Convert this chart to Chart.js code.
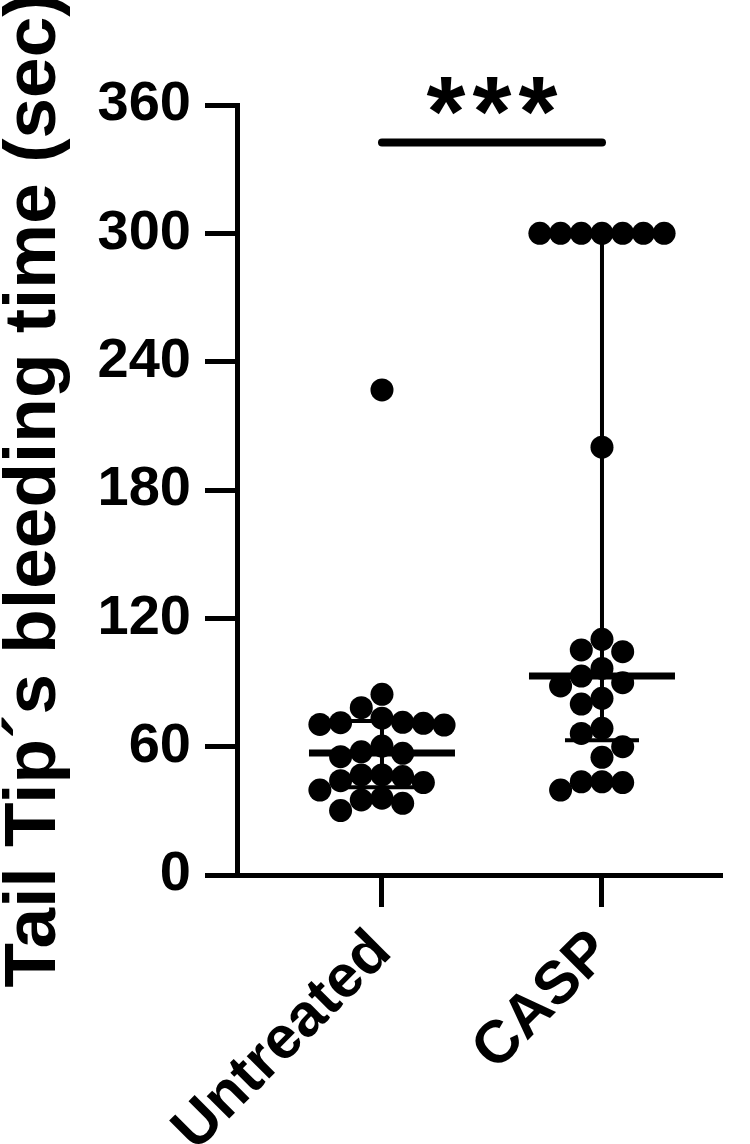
<!DOCTYPE html>
<html lang="en">
<head>
  <meta charset="UTF-8">
  <title>Tail tip bleeding time</title>
  <script src="https://cdn.jsdelivr.net/npm/chart.js"></script>
  <style>
    body { margin: 0; background: #fff; }
  </style>
</head>
<body>
  <canvas id="myChart" width="750" height="1144"></canvas>

  <script>
    // data
    const groups = ['Untreated', 'CASP'];
    const untreated = [226.8, 84.5, 78.2, 73.3, 71.4, 71.2, 70.9, 70.4, 70.1, 60.3, 57.6, 56.9, 55.3,
      46.8, 46.8, 46.0, 44.1, 43.2, 39.7, 35.9, 35.1, 33.5, 30.1];
    const casp = [300, 300, 300, 300, 300, 300, 300, 200, 110.2, 105.2, 104.4, 96.6, 93.0, 89.9, 88.4,
      82.6, 79.9, 68.6, 66.2, 60.0, 55.0, 43.6, 43.6, 43.2, 39.7];
    const medians = [57, 93];
    const lowerQ = [41, 63];
    const upperQ = [72, 300];
    const yTicks = [0, 60, 120, 180, 240, 300, 360];
    const significance = '***';

    const FONT = '"Liberation Sans", Arial, sans-serif';

    // simple column beeswarm so the dots sit side by side like the prism plot
    const pxPerX = 220, pxPerY = 770 / 360, gap = 20.7, minDy = 21;
    function swarm(values, center) {
      const placed = [];
      const sorted = [...values].sort((a, b) => b - a);
      sorted.forEach(v => {
        for (let k = 0; k < 20; k++) {
          const col = k === 0 ? 0 : (k % 2 ? -Math.ceil(k / 2) : Math.ceil(k / 2));
          const hit = placed.some(p => p.col === col && Math.abs(p.y - v) * pxPerY < minDy);
          if (!hit) { placed.push({ col, y: v }); break; }
        }
      });
      return placed.map(p => ({ x: center + p.col * gap / pxPerX, y: p.y }));
    }

    const extras = {
      id: 'extras',
      afterDatasetsDraw(chart) {
        const { ctx, chartArea, scales: { x, y } } = chart;
        ctx.save();
        ctx.strokeStyle = '#000';
        ctx.fillStyle = '#000';
        groups.forEach((g, i) => {
          const cx = x.getPixelForValue(i + 1);
          // median
          ctx.lineWidth = 7;
          ctx.beginPath();
          ctx.moveTo(cx - 73, y.getPixelForValue(medians[i]));
          ctx.lineTo(cx + 73, y.getPixelForValue(medians[i]));
          ctx.stroke();
          // interquartile range
          ctx.lineWidth = 4;
          ctx.beginPath();
          ctx.moveTo(cx, y.getPixelForValue(lowerQ[i]));
          ctx.lineTo(cx, y.getPixelForValue(upperQ[i]));
          [lowerQ[i], upperQ[i]].forEach(v => {
            ctx.moveTo(cx - 37, y.getPixelForValue(v));
            ctx.lineTo(cx + 37, y.getPixelForValue(v));
          });
          ctx.stroke();
        });
        // significance bar + stars
        const sy = y.getPixelForValue(342.5);
        const x1 = x.getPixelForValue(1), x2 = x.getPixelForValue(2);
        ctx.lineWidth = 8;
        ctx.lineCap = 'round';
        ctx.beginPath();
        ctx.moveTo(x1, sy);
        ctx.lineTo(x2, sy);
        ctx.stroke();
        ctx.font = 'bold 100px ' + FONT;
        ctx.textAlign = 'center';
        ctx.textBaseline = 'alphabetic';
        const mid = (x1 + x2) / 2;
        [...significance].forEach((s, k) => ctx.fillText(s, mid + (k - 1) * 46, sy + 4));
        // axis title
        ctx.translate(55, (chartArea.top + chartArea.bottom) / 2);
        ctx.rotate(-Math.PI / 2);
        ctx.font = 'bold 73px ' + FONT;
        ctx.fillText('Tail Tip\u00B4s bleeding time (sec)', 0, 0);
        ctx.restore();
      }
    };

    const ctx = document.getElementById('myChart').getContext('2d');
    const myChart = new Chart(ctx, {
      type: 'scatter',
      data: {
        datasets: [
          { label: groups[0], data: swarm(untreated, 1) },
          { label: groups[1], data: swarm(casp, 2) },
        ].map(d => ({
          ...d,
          backgroundColor: '#000',
          borderWidth: 0,
          pointRadius: 11.5,
          pointHoverRadius: 11.5,
          clip: false,
        })),
      },
      options: {
        responsive: false,
        animation: false,
        layout: { padding: { top: 105, right: 28, left: 0, bottom: 0 } },
        plugins: { legend: { display: false }, tooltip: { enabled: false } },
        scales: {
          x: {
            type: 'linear',
            min: 0.341,
            max: 2.5455,
            afterBuildTicks: s => { s.ticks = [{ value: 1 }, { value: 2 }]; },
            afterFit: s => { s.height = 1144 - 875; },
            grid: { drawOnChartArea: false, tickLength: 32, tickWidth: 5, color: '#000' },
            border: { display: true, width: 5, color: '#000' },
            ticks: {
              autoSkip: false,
              minRotation: 45,
              maxRotation: 45,
              padding: 10,
              color: '#000',
              font: { family: FONT, size: 60, weight: 'bold' },
              callback: v => groups[v - 1],
            },
          },
          y: {
            min: 0,
            max: 360,
            afterBuildTicks: s => { s.ticks = yTicks.map(v => ({ value: v })); },
            afterFit: s => { s.width = 237; },
            grid: { drawOnChartArea: false, tickLength: 32, tickWidth: 5, color: '#000' },
            border: { display: true, width: 5, color: '#000' },
            ticks: {
              padding: 14,
              color: '#000',
              font: { family: FONT, size: 56, weight: 'bold' },
            },
          },
        },
      },
      plugins: [extras],
    });
  </script>
</body>
</html>
